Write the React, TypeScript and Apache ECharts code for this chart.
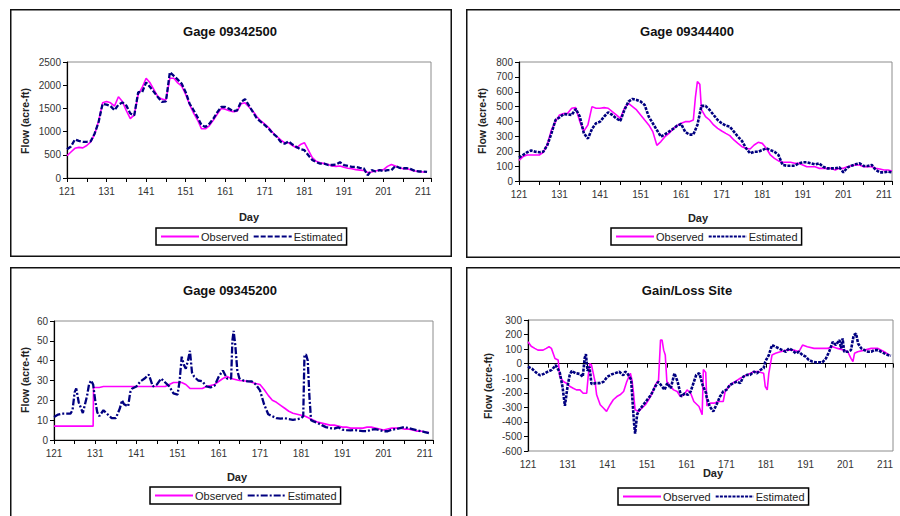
import { useEffect, useRef } from 'react';
import * as echarts from 'echarts';

const FONT = '"Liberation Sans", Arial, Helvetica, sans-serif';
const DAY0 = 121;
const DAY_MAX = 213;
const MAGENTA = '#FF00FF';
const NAVY = '#000080';
const LEGEND_NAMES = ['Observed', 'Estimated'];

// ---------- Gage 09342500 ----------
const gage09342500Observed: [number, number][] = [[121,480],[122,560],[123,640],[124,660],[125,650],[126,700],[127,780],[128,950],[129,1230],[130,1620],[131,1650],[132,1620],[133,1550],[134,1750],[135,1650],[136,1450],[137,1280],[138,1360],[139,1800],[140,1950],[141,2150],[142,2050],[143,1900],[144,1750],[145,1700],[146,1680],[147,2150],[148,2150],[149,2050],[150,1980],[151,1800],[152,1580],[153,1400],[154,1250],[155,1060],[156,1060],[157,1130],[158,1250],[159,1380],[160,1500],[161,1480],[162,1450],[163,1430],[164,1440],[165,1600],[166,1620],[167,1530],[168,1440],[169,1320],[170,1230],[171,1160],[172,1080],[173,980],[174,900],[175,820],[176,760],[177,760],[178,700],[179,650],[180,720],[181,760],[182,600],[183,440],[184,360],[185,330],[186,310],[187,290],[188,260],[189,250],[190,260],[191,230],[192,210],[193,200],[194,180],[195,170],[196,160],[197,120],[198,130],[199,150],[200,170],[201,180],[202,250],[203,290],[204,260],[205,220],[206,200],[207,200],[208,170],[209,150],[210,140],[211,130],[212,130]];
const gage09342500Estimated: [number, number][] = [[121,620],[122,680],[123,830],[124,800],[125,780],[126,780],[127,790],[128,960],[129,1210],[130,1600],[131,1580],[132,1550],[133,1460],[134,1580],[135,1630],[136,1560],[137,1390],[138,1350],[139,1850],[140,1850],[141,2060],[142,1960],[143,1850],[144,1740],[145,1640],[146,1650],[147,2280],[148,2200],[149,2120],[150,2030],[151,1850],[152,1600],[153,1460],[154,1310],[155,1140],[156,1100],[157,1170],[158,1280],[159,1420],[160,1530],[161,1530],[162,1490],[163,1440],[164,1460],[165,1640],[166,1700],[167,1560],[168,1420],[169,1280],[170,1210],[171,1140],[172,1060],[173,960],[174,890],[175,780],[176,740],[177,790],[178,720],[179,670],[180,620],[181,600],[182,490],[183,390],[184,340],[185,310],[186,310],[187,280],[188,280],[189,290],[190,340],[191,280],[192,260],[193,240],[194,240],[195,220],[196,210],[197,60],[198,170],[199,140],[200,170],[201,150],[202,170],[203,170],[204,260],[205,220],[206,210],[207,210],[208,190],[209,150],[210,140],[211,140],[212,130]];

// ---------- Gage 09344400 ----------
const gage09344400Observed: [number, number][] = [[121,139],[122,164],[123,175],[124,175],[125,175],[126,175],[127,193],[128,247],[129,343],[130,399],[131,444],[132,453],[133,455],[134,489],[135,493],[136,399],[137,335],[138,377],[139,500],[140,489],[141,489],[142,493],[143,489],[144,466],[145,444],[146,421],[147,489],[148,522],[149,500],[150,478],[151,444],[152,410],[153,377],[154,332],[155,240],[156,265],[157,298],[158,320],[159,350],[160,372],[161,388],[162,399],[163,399],[164,410],[164.5,560],[165,668],[165.6,650],[166,480],[167,433],[168,410],[169,377],[170,354],[171,336],[172,320],[173,305],[174,276],[175,253],[176,231],[177,220],[178,215],[179,242],[180,260],[181,253],[182,220],[183,175],[184,152],[185,135],[186,126],[187,126],[188,126],[189,119],[190,119],[191,108],[192,96],[193,96],[194,96],[195,85],[196,85],[197,85],[198,85],[199,74],[200,85],[201,85],[202,96],[203,103],[204,108],[205,108],[206,96],[207,96],[208,96],[209,85],[210,81],[211,74],[212,74],[213,67]];
const gage09344400Estimated: [number, number][] = [[121,157],[122,175],[123,193],[124,205],[125,197],[126,193],[127,197],[128,242],[129,320],[130,410],[131,428],[132,450],[133,448],[134,444],[135,485],[136,433],[137,320],[138,285],[139,350],[140,388],[141,399],[142,433],[143,462],[144,444],[145,421],[146,404],[147,478],[148,534],[149,552],[150,545],[151,534],[152,511],[153,433],[154,388],[155,343],[156,298],[157,314],[158,332],[159,350],[160,372],[161,383],[162,330],[163,312],[164,312],[165,377],[166,505],[167,505],[168,478],[169,444],[170,410],[171,388],[172,372],[173,365],[174,332],[175,298],[176,269],[177,220],[178,186],[179,197],[180,197],[181,208],[182,220],[183,208],[184,197],[185,175],[186,108],[187,103],[188,103],[189,103],[190,119],[191,126],[192,126],[193,119],[194,112],[195,119],[196,96],[197,85],[198,85],[199,85],[200,92],[201,58],[202,90],[203,103],[204,112],[205,119],[206,101],[207,101],[208,108],[209,74],[210,58],[211,58],[212,63],[213,58]];

// ---------- Gage 09345200 ----------
const gage09345200Observed: [number, number][] = [[121,7],[130.5,7],[130.6,26.5],[132,26.5],[133,27],[148,27],[149,28],[150,29],[152,29],[153,28],[154,26],[157,26],[158,27],[160,28],[162,31],[163,32],[164,31],[166,30],[168,29.6],[170,28.5],[171,28],[172,25.5],[173,22.5],[174,20],[175,19],[176,17.5],[177,16],[178,14.5],[179,13.5],[180,13],[181,12.5],[182,12],[183,11],[184,10],[185,9],[186,8.5],[187,8],[188,7.5],[189,7.5],[190,7],[191,6.5],[192,6.5],[193,6],[194,6],[195,6],[196,6],[197,6.5],[198,6.5],[199,6],[200,5.5],[201,5],[202,5.5],[203,6],[204,6],[205,6],[206,5.5],[207,5.5],[208,5],[209,4.5],[210,4.5],[211,4],[212,3.8]];
const gage09345200Estimated: [number, number][] = [[121,11.6],[122,12.8],[123,13.3],[124,13.3],[125,13.3],[125.5,15],[126,24],[126.4,26],[127,19],[128,13.6],[129,22],[129.5,28],[130,30],[130.5,28],[131,20],[131.5,14],[132,12],[133,15],[134,13],[135,11],[136,11],[137,16],[137.5,20],[138,18],[139,17],[139.5,24],[140,26],[141,27],[142,29.6],[143,31],[144,33],[145,27],[146,28],[147,31],[148,29],[149,27],[150,23.5],[151,22.9],[151.5,30],[152,42],[152.5,38],[153,36],[153.5,40],[154,45],[154.5,34],[155,32],[156,30],[157,29.6],[158,27],[159,26.5],[160,27.5],[161,32],[162,35],[163,31],[164,31],[164.3,50],[164.6,55],[165,48],[165.5,35],[166,31],[167,30],[168,29.6],[169,29.6],[170,28],[171,25],[172,18],[173,13],[174,12],[175,11],[176,10.8],[177,11],[178,10.5],[179,10.2],[180,10.5],[181,11],[181.5,12],[181.8,43],[182.2,43],[182.6,40],[183,22],[183.4,10],[184,9.4],[185,8.6],[186,7.5],[187,6.5],[188,6],[189,5.7],[190,6.4],[191,5.2],[192,5],[193,4.9],[194,5],[195,4.8],[196,4.5],[197,4.4],[198,5.2],[199,5.5],[200,5],[201,4.4],[202,4.4],[203,5.2],[204,5.5],[205,6],[206,6.5],[207,6],[208,5.5],[209,5],[210,4.5],[211,4],[212,3.5]];

// ---------- Gain/Loss Site ----------
const gainLossObserved: [number, number][] = [[121,150],[121.8,120],[122.7,105],[123.5,93],[124.8,93],[125.6,105],[126.3,116],[126.9,105],[127.8,36],[128.6,25],[129,-89],[129.9,-123],[130.7,-134],[131.6,-157],[132.4,-169],[133.2,-180],[134.1,-180],[134.9,-203],[135.8,-203],[136.2,-77],[136.6,0],[137,-9],[137.9,-123],[138.3,-214],[139.2,-282],[140,-305],[140.8,-328],[141.7,-282],[142.5,-248],[143.4,-226],[144.2,-214],[145.1,-191],[145.9,-123],[146.8,-66],[147.2,-112],[147.6,-203],[148,-317],[148.9,-328],[149.7,-305],[150.6,-282],[151.4,-248],[152.3,-203],[153.1,-146],[153.9,-112],[154.4,162],[154.8,162],[155.2,93],[155.6,59],[156,-123],[156.9,-157],[157.7,-180],[158.6,-191],[159.4,-226],[160.3,-214],[161.1,-180],[162,-203],[162.8,-260],[164.1,-294],[164.9,-351],[165.2,-40],[165.8,-60],[166.1,-290],[167,-271],[168,-271],[169,-260],[170.2,-260],[170.7,-191],[171.9,-146],[173.2,-123],[174.5,-100],[176.2,-77],[177.9,-55],[179.1,-55],[180.4,-66],[180.8,-157],[181.3,-180],[181.7,-66],[182.5,59],[183.4,71],[184.6,82],[186.3,93],[188,93],[189.3,82],[190.2,128],[191.4,116],[193.1,105],[196.5,105],[197.8,116],[199,105],[200.7,93],[201.6,82],[202.4,36],[202.9,14],[203.3,71],[204.1,82],[205.8,93],[207.5,105],[209.2,105],[210.8,82],[212.1,59]];
const gainLossEstimated: [number, number][] = [[121,-20],[122,-35],[123,-60],[124,-80],[125,-70],[126,-55],[127,-43],[128,-10],[129,-60],[129.7,-160],[130.3,-290],[131,-150],[131.5,-80],[132,-50],[133,-66],[134,-70],[134.8,-90],[135.3,40],[135.6,65],[136,-50],[136.5,-20],[137,-140],[138,-134],[139,-134],[140,-125],[141,-90],[142,-75],[143,-65],[144,-55],[145,-80],[145.5,-55],[146,-65],[147,-110],[147.3,-237],[147.7,-400],[148,-480],[148.5,-350],[149,-320],[150,-285],[151,-250],[152,-215],[153,-160],[153.8,-125],[154.5,-146],[155.4,-180],[156.1,-134],[157,-169],[157.9,-66],[158.7,-123],[159.6,-226],[160.5,-205],[161.3,-214],[162,-191],[163.4,-77],[164.2,-66],[165,-146],[165.9,-203],[166,-226],[166.8,-294],[167.7,-328],[168.5,-282],[169.4,-226],[170.2,-191],[171,-180],[171.9,-146],[172.8,-134],[173.6,-123],[174.5,-134],[175.3,-89],[176.2,-77],[177,-77],[177.9,-55],[178.7,-66],[179.6,-43],[180.4,-32],[180.8,14],[181.7,59],[182.5,128],[183.4,116],[184.2,105],[185.1,93],[186,82],[186.8,105],[187.6,93],[188.5,71],[189.3,82],[190.2,59],[191,48],[191.8,25],[192.7,14],[193.5,9],[194.4,9],[195.2,9],[196.1,36],[196.9,82],[197.8,150],[198.6,128],[199.5,162],[199.9,105],[200.3,173],[200.7,82],[201.6,82],[202.4,93],[203.1,196],[203.7,207],[204.2,139],[205,105],[205.8,93],[206.7,82],[207.5,82],[208.3,93],[209.2,93],[210,82],[210.8,71],[211.7,59],[212.5,55]];

interface PanelCfg {
  id: string;
  title: string;
  box: { left: number; top: number; width: number; height: number };
  grid: { left: number; top: number; width: number; height: number };
  yMin: number;
  yMax: number;
  yInterval: number;
  observed: [number, number][];
  estimated: [number, number][];
  estDash: number[];
  estWidth: number;
  titlePos: [number, number];
  yNamePos: [number, number];
  xNamePos: [number, number];
  legendPos: [number, number];
}

const panels: PanelCfg[] = [
  {
    id: 'p1', title: 'Gage 09342500',
    box: { left: 10, top: 9, width: 442, height: 248 },
    grid: { left: 57, top: 53, width: 364, height: 116 },
    yMin: 0, yMax: 2500, yInterval: 500,
    observed: gage09342500Observed, estimated: gage09342500Estimated,
    estDash: [5, 2], estWidth: 2.3,
    titlePos: [220, 22], yNamePos: [15, 112], xNamePos: [239, 208], legendPos: [146, 219],
  },
  {
    id: 'p2', title: 'Gage 09344400',
    box: { left: 466, top: 9, width: 440, height: 249 },
    grid: { left: 53, top: 53, width: 373, height: 119 },
    yMin: 0, yMax: 800, yInterval: 100,
    observed: gage09344400Observed, estimated: gage09344400Estimated,
    estDash: [3, 1.2], estWidth: 2.6,
    titlePos: [221, 22], yNamePos: [16, 112], xNamePos: [232, 209], legendPos: [145, 219],
  },
  {
    id: 'p3', title: 'Gage 09345200',
    box: { left: 10, top: 267, width: 442, height: 255 },
    grid: { left: 44, top: 54, width: 379, height: 119 },
    yMin: 0, yMax: 60, yInterval: 10,
    observed: gage09345200Observed, estimated: gage09345200Estimated,
    estDash: [7, 2, 2, 2], estWidth: 2.3,
    titlePos: [220, 23], yNamePos: [15, 113], xNamePos: [227, 210], legendPos: [140, 220],
  },
  {
    id: 'p4', title: 'Gain/Loss Site',
    box: { left: 466, top: 267, width: 440, height: 255 },
    grid: { left: 62, top: 53, width: 365, height: 131 },
    yMin: -600, yMax: 300, yInterval: 100,
    observed: gainLossObserved, estimated: gainLossEstimated,
    estDash: [3, 1.2], estWidth: 2.6,
    titlePos: [221, 23], yNamePos: [22, 119], xNamePos: [247, 206], legendPos: [152, 221],
  },
];

const toOffset = (pts: [number, number][]) => pts.map(([d, v]) => [d - DAY0, v]);

function buildOption(p: PanelCfg): echarts.EChartsCoreOption {
  return {
    animation: false,
    backgroundColor: '#fff',
    textStyle: { fontFamily: FONT },
    grid: { ...p.grid, show: true, borderColor: '#8c8c8c', borderWidth: 1, containLabel: false },
    xAxis: {
      type: 'value', min: 0, max: DAY_MAX - DAY0, interval: 5,
      axisLine: { show: true, onZero: true, lineStyle: { color: '#000', width: 1.2 } },
      axisTick: { show: true, length: 4, lineStyle: { color: '#000', width: 1 } },
      axisLabel: {
        fontSize: 10, color: '#333', margin: 8, fontFamily: FONT,
        formatter: (v: number) => (Math.round(v) % 10 === 0 ? String(Math.round(v) + DAY0) : ''),
      },
      splitLine: { show: false },
    },
    yAxis: {
      type: 'value', min: p.yMin, max: p.yMax, interval: p.yInterval,
      axisLine: { show: true, lineStyle: { color: '#000', width: 1.2 } },
      axisTick: { show: true, length: 4, lineStyle: { color: '#000', width: 1 } },
      axisLabel: { fontSize: 10, color: '#333', margin: 6, fontFamily: FONT, formatter: (v: number) => String(v) },
      splitLine: { show: false },
    },
    legend: {
      data: LEGEND_NAMES,
      left: p.legendPos[0], top: p.legendPos[1],
      orient: 'horizontal',
      itemWidth: 38, itemHeight: 10, itemGap: 4,
      padding: [3, 4, 3, 4],
      borderColor: '#000', borderWidth: 1.5, backgroundColor: '#fff',
      itemStyle: { opacity: 0 },
      textStyle: { fontSize: 11, color: '#222', fontFamily: FONT, padding: [0, 0, 0, -3] },
    },
    series: [
      {
        name: 'Observed', type: 'line', data: toOffset(p.observed),
        symbol: 'none', showSymbol: false, silent: true,
        lineStyle: { color: MAGENTA, width: 1.6, type: 'solid' },
        itemStyle: { color: MAGENTA },
        z: 2,
      },
      {
        name: 'Estimated', type: 'line', data: toOffset(p.estimated),
        symbol: 'none', showSymbol: false, silent: true,
        lineStyle: { color: NAVY, width: p.estWidth, type: p.estDash },
        itemStyle: { color: NAVY },
        z: 3,
      },
    ],
    graphic: [
      {
        type: 'rect', silent: true, z: 100,
        shape: { x: 0.75, y: 0.75, width: p.box.width - 1.5, height: p.box.height - 1.5 },
        style: { fill: 'none', stroke: '#111', lineWidth: 1.5 },
      },
      {
        type: 'text', x: p.titlePos[0], y: p.titlePos[1], silent: true,
        style: { text: p.title, fontSize: 13, fontWeight: 'bold', fontFamily: FONT, fill: '#111', align: 'center', verticalAlign: 'middle' },
      },
      {
        type: 'text', x: p.yNamePos[0], y: p.yNamePos[1], rotation: Math.PI / 2, silent: true,
        style: { text: 'Flow (acre-ft)', fontSize: 10.5, fontWeight: 'bold', fontFamily: FONT, fill: '#222', align: 'center', verticalAlign: 'middle' },
      },
      {
        type: 'text', x: p.xNamePos[0], y: p.xNamePos[1], silent: true,
        style: { text: 'Day', fontSize: 11, fontWeight: 'bold', fontFamily: FONT, fill: '#222', align: 'center', verticalAlign: 'middle' },
      },
    ],
  };
}

function Panel({ cfg }: { cfg: PanelCfg }) {
  const ref = useRef<HTMLDivElement>(null);
  useEffect(() => {
    if (!ref.current) return;
    const chart = echarts.init(ref.current, undefined, { renderer: 'svg' });
    chart.setOption(buildOption(cfg));
    return () => chart.dispose();
  }, [cfg]);
  return (
    <div
      ref={ref}
      style={{ position: 'absolute', left: cfg.box.left, top: cfg.box.top, width: cfg.box.width, height: cfg.box.height }}
    />
  );
}

export default function App() {
  return (
    <div style={{ position: 'fixed', left: 0, top: 0, width: 900, height: 516, overflow: 'hidden', background: '#fff' }}>
      {panels.map((p) => (
        <Panel key={p.id} cfg={p} />
      ))}
    </div>
  );
}
